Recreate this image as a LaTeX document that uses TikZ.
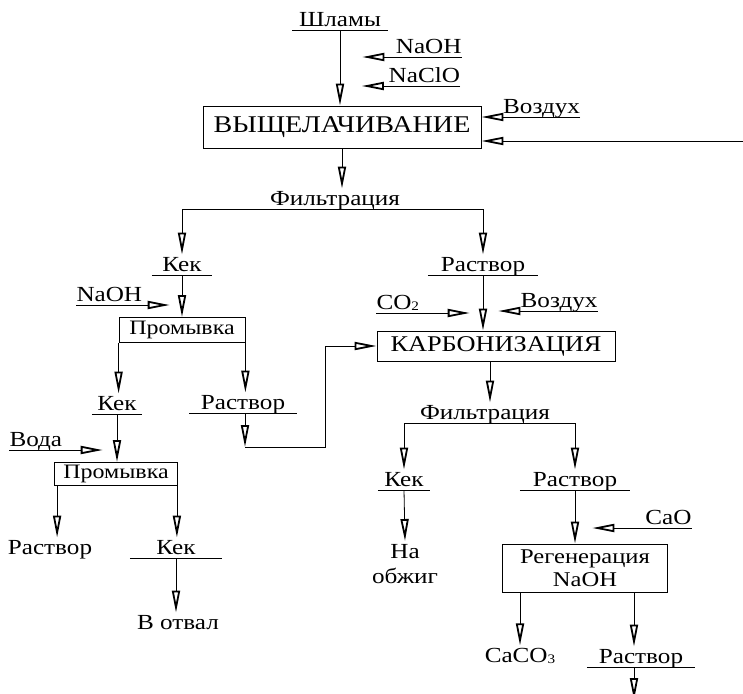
\documentclass[tikz,border=0pt]{standalone}
\usepackage{fontspec}
\setmainfont{Liberation Serif}[FakeStretch=1.17]
\usetikzlibrary{arrows.meta}
\newcommand{\chemidx}[1]{\raisebox{-1pt}{\fontsize{13}{13}\selectfont #1}}

\begin{document}
\begin{tikzpicture}[
x=1pt, y=-1pt,
every node/.style={font=\fontsize{21.5}{25}\selectfont},
arr/.style={-{Triangle[length=22pt,width=8pt,open,line width=1.8pt]}, line width=0.8pt},
txt/.style={anchor=south, inner xsep=0pt, inner ysep=3pt, text depth=0pt},
ul/.style={txt, minimum width=#1, append after command={(\tikzlastnode.south west) edge[draw, line width=0.8pt] (\tikzlastnode.south east)}},
feedl/.style={txt, text width=#1, align=right},
feedr/.style={txt, text width=#1, align=left},
procbox/.style={draw, line width=0.8pt, inner sep=0pt}
]
    \useasboundingbox (0,0) rectangle (743,693);

    \node[ul=95] (slime) at (340,30) {Шламы};
    \node[feedl=99] (naoh1) at (412,57) {NaOH};
    \node[feedl=98] (naclo) at (411,86) {NaClO};
    \node[procbox, minimum width=278, minimum height=42, font=\fontsize{24}{28}\selectfont] (leach) at (342,127) {ВЫЩЕЛАЧИВАНИЕ};
    \node[feedl=98] (vozd1) at (531,117) {Воздух};
    \coordinate (recyc) at (743,141);
    \node[txt] (filt1) at (335,209) {Фильтрация};

    \node[ul=60] (kek1) at (182,275) {Кек};
    \node[feedr=93] (naoh2) at (123,305) {NaOH};
    \node[procbox, minimum width=126, minimum height=25, font=\fontsize{20.5}{24}\selectfont] (prom1) at (182,330) {Промывка};
    \node[ul=50] (kek2) at (117,414) {Кек};
    \node[ul=107] (rastv2) at (243,413) {Раствор};
    \coordinate (bend) at (245,447);
    \coordinate (riser) at (325,447);
    \node[feedr=93] (voda) at (56,450) {Вода};
    \node[procbox, minimum width=123, minimum height=23, font=\fontsize{20.5}{24}\selectfont] (prom2) at (116,474) {Промывка};
    \node[txt] (rastv3) at (50,558) {Раствор};
    \node[ul=92] (kek3) at (176,558) {Кек};
    \node[txt] (otval) at (178,633) {В отвал};

    \node[ul=110] (rastv1) at (483,275) {Раствор};
    \node[feedr=93] (co2) at (423,313) {CO\chemidx{2}};
    \node[feedl=99] (vozd2) at (548,311) {Воздух};
    \node[procbox, minimum width=238, minimum height=30, font=\fontsize{22.5}{26}\selectfont] (karb) at (496,346) {КАРБОНИЗАЦИЯ};
    \node[txt] (filt2) at (485,423) {Фильтрация};
    \node[ul=52] (kek4) at (404,490) {Кек};
    \node[ul=110] (rastv4) at (575,490) {Раствор};
    \node[txt, anchor=north, align=center] (nazhig) at (405,541) {На\\обжиг};
    \node[feedl=99] (cao) at (642,528) {CaO};
    \node[procbox, minimum width=165, minimum height=48, align=center, font=\fontsize{21}{23}\selectfont] (regen) at (585,568) {Регенерация\\NaOH};
    \node[txt] (caco3) at (520,666) {CaCO\chemidx{3}};
    \node[ul=108] (rastv5) at (641,667) {Раствор};
    \coordinate (exit) at (634,700);

    % leaching
    \draw[arr] (slime.south) -- (slime.south |- leach.north);
    \draw[arr] (naoh1.south east) -- (naoh1.south west);
    \draw[arr] (naclo.south east) -- (naclo.south west);
    \draw[arr] (vozd1.south east) -- (vozd1.south east -| leach.east);
    \draw[arr] (recyc) -- (recyc -| leach.east);
    \draw[arr] (leach.south) -- (leach.south |- filt1.north);
    \draw[arr] (filt1.south) -| (kek1.north);
    \draw[arr] (filt1.south) -| (rastv1.north);

    % washing
    \draw[arr] (kek1.south) -- (prom1.north);
    \draw[arr] (naoh2.south west) -- (naoh2.south east);
    \draw[arr] (prom1.south west) -- (prom1.south west |- kek2.north);
    \draw[arr] (prom1.south east) -- (prom1.south east |- rastv2.north);
    \draw[arr] (rastv2.south -| bend) -- (bend);
    \draw[arr] (bend) -- (riser) |- (karb.west);
    \draw[arr] (voda.south west) -- (voda.south east);
    \draw[arr] (kek2.south) -- (kek2.south |- prom2.north);
    \draw[arr] ([xshift=3pt]prom2.south west) -- ([xshift=3pt]prom2.south west |- rastv3.north);
    \draw[arr] ([xshift=-1pt]prom2.south east) -- ([xshift=-1pt]prom2.south east |- kek3.north);
    \draw[arr] (kek3.south) -- (kek3.south |- otval.north);

    % carbonization
    \draw[arr] (rastv1.south) -- (rastv1.south |- karb.north);
    \draw[arr] (co2.south west) -- (co2.south east);
    \draw[arr] (vozd2.south east) -- (vozd2.south west);
    \draw[arr] ([xshift=-6pt]karb.south) -- ([xshift=-6pt]karb.south |- filt2.north);
    \draw[arr] (filt2.south) -| (kek4.north);
    \draw[arr] (filt2.south) -| (rastv4.north);
    \draw[arr] (kek4.south) -- (nazhig.north);

    % regeneration
    \draw[arr] (cao.south east) -- (cao.south west);
    \draw[arr] (rastv4.south) -- (rastv4.south |- regen.north);
    \draw[arr] (regen.south -| caco3.north) -- (caco3.north);
    \draw[arr] (regen.south -| exit) -- (exit |- rastv5.north);
    \draw[arr] (exit |- rastv5.south) -- (exit);
\end{tikzpicture}
\end{document}
